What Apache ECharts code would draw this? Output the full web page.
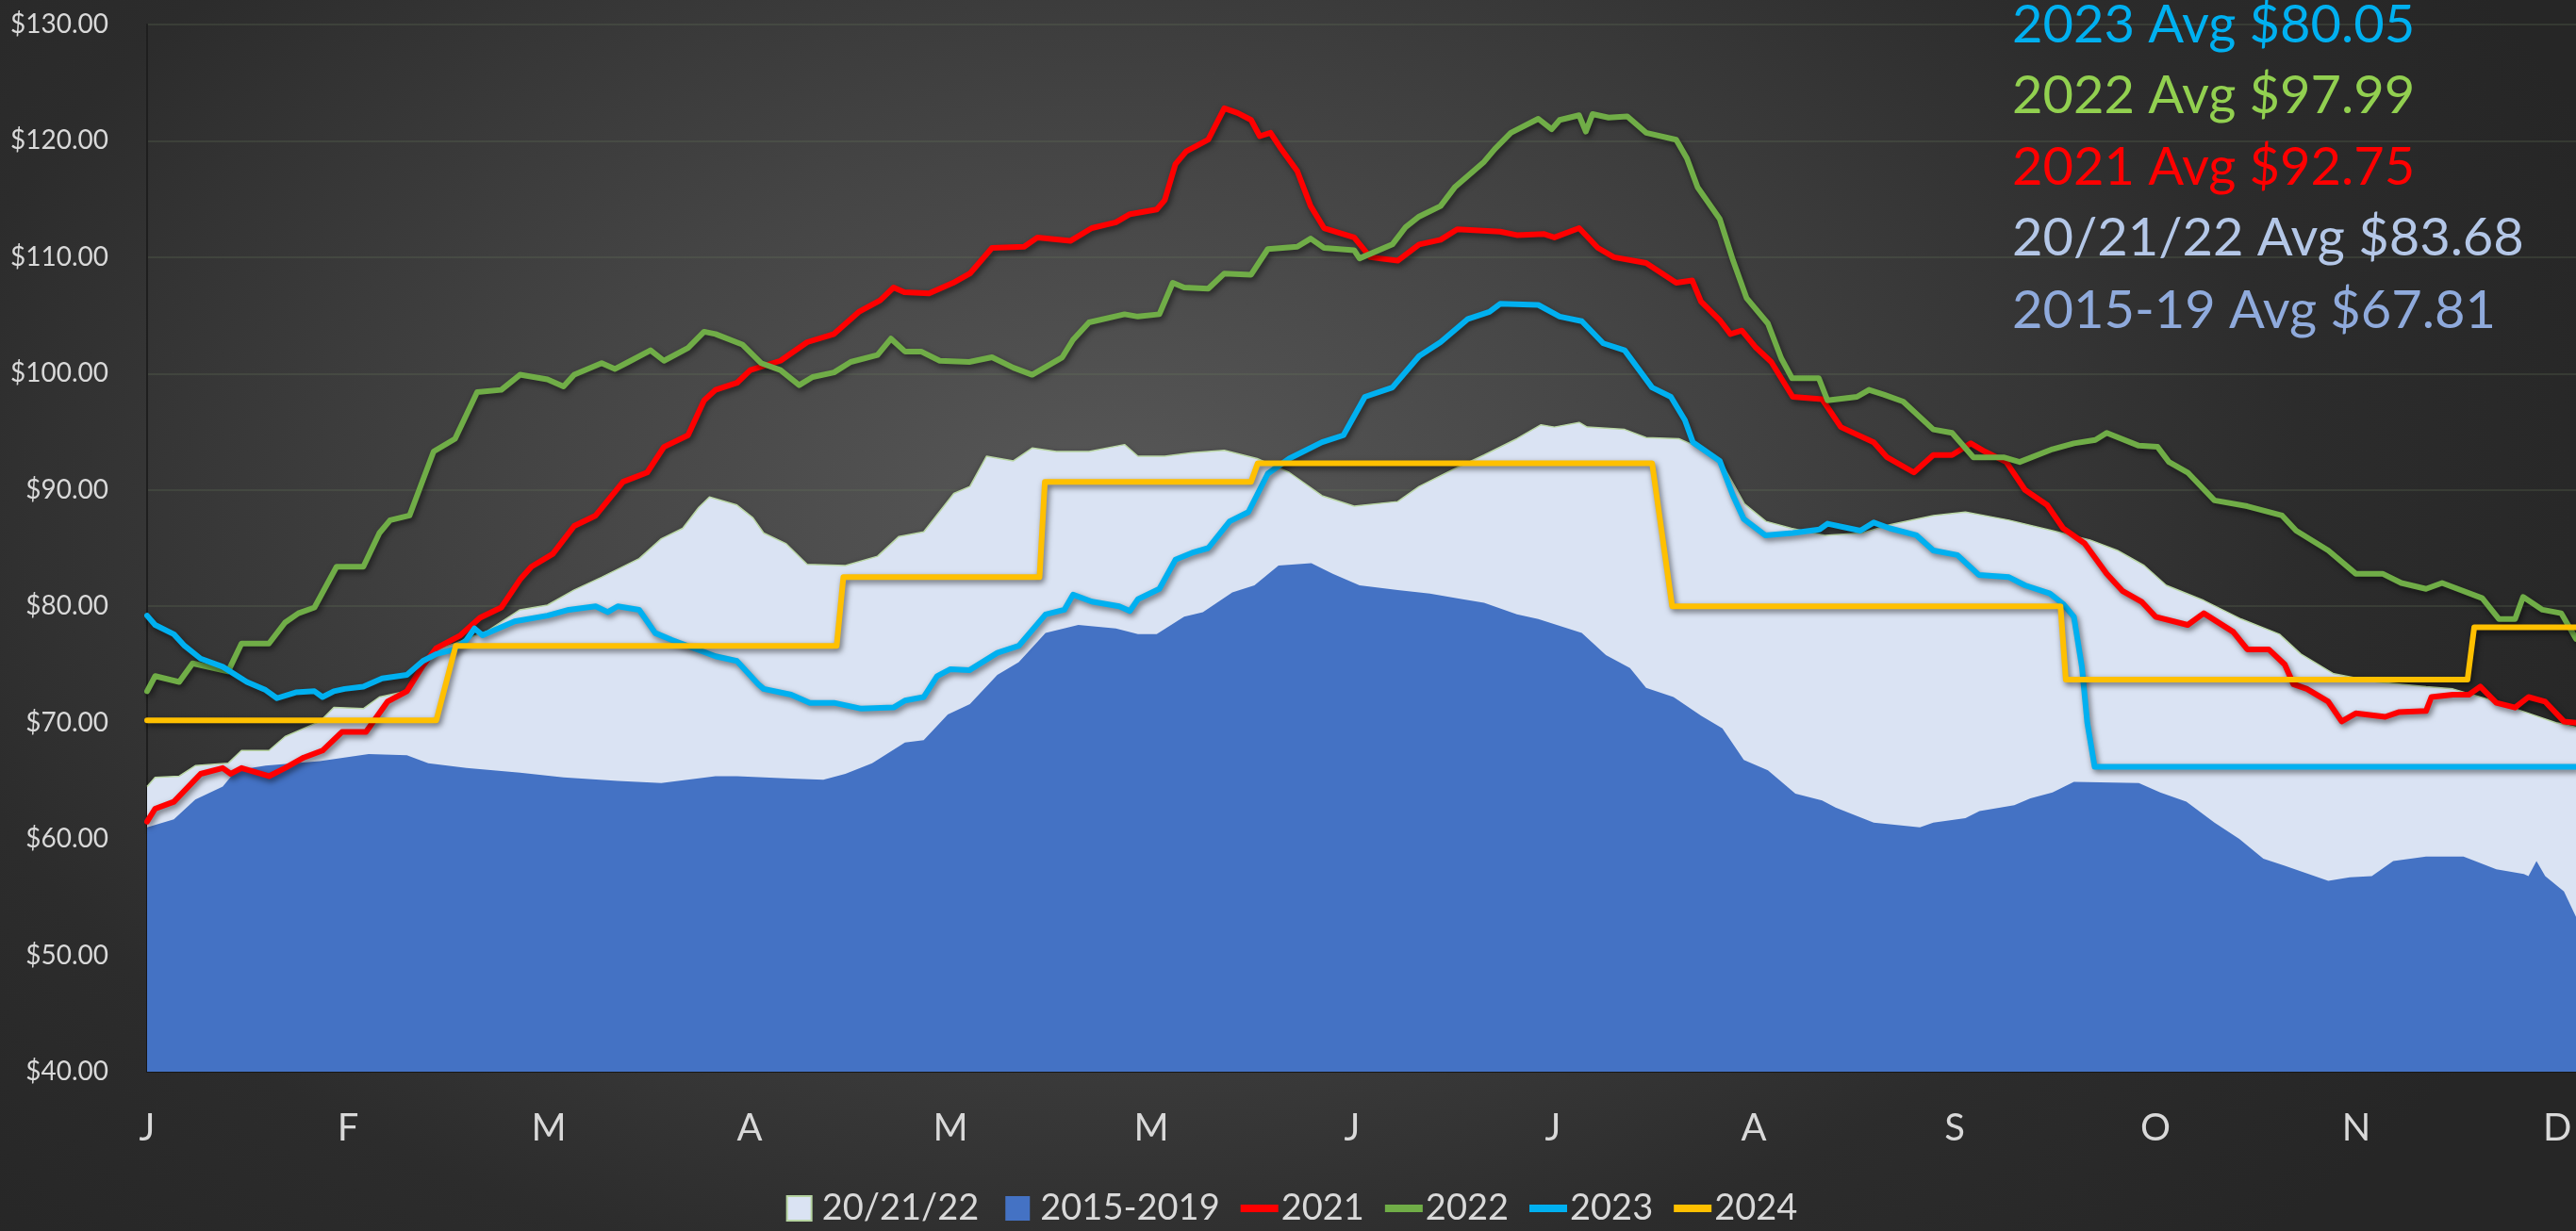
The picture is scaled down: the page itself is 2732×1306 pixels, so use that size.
<!DOCTYPE html>
<html>
<head>
<meta charset="utf-8">
<script src="https://cdn.jsdelivr.net/npm/echarts@6/dist/echarts.min.js"></script>
<style>
html,body{margin:0;padding:0;width:2732px;height:1306px;overflow:hidden;}
body{background:radial-gradient(ellipse 62% 85% at 43% 42%, #585858 0%, #454545 35%, #2c2c2c 75%, #262626 100%);}
#chart{width:2732px;height:1306px;}
</style>
</head>
<body>
<div id="chart"></div>
<script>
// ---------- DATA ----------
const tickLabels = ['J','F','M','A','M','M','J','J','A','S','O','N','D'];
const seriesNames = ['20/21/22','2015-2019','2021','2022','2023','2024'];
const avgLabels = ['2023 Avg $80.05','2022 Avg $97.99','2021 Avg $92.75','20/21/22 Avg $83.68','2015-19 Avg $67.81'];

const daysRange = [0,1.2,4.8,7.2,12.1,14.1,18.2,20.6,25.8,27.9,32.3,34.7,38.8,41.2,43.2,46,50.9,55.7,59.8,63.8,67.9,73.5,76.8,80,82.4,84,88.1,90.5,92.1,95.4,98.6,104.3,109.1,112.3,116,120.5,122.9,125.4,129.4,132.2,135.8,140.7,146,148,152,156.1,160.9,165.8,170.6,175.5,180.3,186.8,190,194.9,199.7,204.6,208.2,210.2,213.9,215.1,220.7,223.9,228.8,230.8,235.3,238.6,241.8,245.6,250.6,256.2,260.3,266.8,271.6,278.1,284.6,290.2,294.3,298.3,301.6,307.2,312.8,318.5,321.7,326.6,333,340.4,344.4,350.9,354.2,359.8,362.8];
const valsRange = [64.5,65.3,65.4,66.3,66.5,67.6,67.6,68.8,70.1,71.3,71.2,72.2,72.7,74.9,76.3,76.8,77.9,79.7,80.1,81.4,82.5,84.1,85.8,86.7,88.5,89.4,88.7,87.6,86.3,85.4,83.6,83.5,84.3,86.0,86.4,89.7,90.3,92.9,92.5,93.6,93.3,93.3,93.9,92.9,92.9,93.2,93.4,92.7,91.5,89.5,88.6,89.0,90.3,91.7,93.0,94.4,95.6,95.4,95.8,95.4,95.2,94.5,94.4,93.9,92.2,88.8,87.3,86.7,86.1,86.3,87.0,87.8,88.1,87.4,86.5,85.7,84.8,83.5,81.8,80.5,78.9,77.6,75.9,74.2,73.5,73.1,72.9,71.8,71.1,70.0,69.6];

const days1519 = [0,4,7.2,11.3,13.3,17.7,25.8,33.1,38.8,42,47.7,55.7,62.2,70.3,76.8,84.9,88.1,96.2,101,104.3,108.3,113.2,116,119.6,122.9,127,130.2,134.2,139.1,144.7,148,150.8,154.9,157.7,162.1,165.4,169,173.9,177.1,181.1,186.8,191.6,196.5,199.7,204.6,207.8,214.3,217.9,221.5,223.9,228,232.1,235.3,238.5,242.1,246.2,250.2,252.2,257.9,264.8,266.8,271.6,273.7,278.9,281.3,284.6,287.8,297.5,300.7,304.6,308.8,312.5,316.1,319.3,325.8,329,332.3,335.5,340.4,346,350.9,355,355.7,356.9,358.2,361,362.8];
const vals1519 = [61.0,61.7,63.4,64.5,65.9,66.3,66.7,67.3,67.2,66.5,66.1,65.7,65.3,65.0,64.8,65.4,65.4,65.2,65.1,65.6,66.5,68.3,68.5,70.7,71.6,74.1,75.2,77.7,78.4,78.1,77.6,77.6,79.1,79.5,81.2,81.8,83.5,83.7,82.8,81.8,81.4,81.1,80.6,80.3,79.3,78.9,77.7,75.8,74.7,73.0,72.2,70.6,69.5,66.8,65.9,63.9,63.3,62.7,61.4,61.0,61.4,61.8,62.4,62.9,63.5,64.0,64.9,64.8,64.0,63.2,61.4,60.0,58.3,57.7,56.4,56.7,56.8,58.1,58.5,58.5,57.4,57.0,56.8,58.1,56.8,55.5,53.3];

const days2021 = [0,1.2,4,8,11.3,12.5,14.1,18.2,20.6,23.4,26.2,29.1,32.7,35.9,38.8,41.2,43.2,46.8,49.7,52.9,55.7,57.4,60.6,63.8,67,71.1,74.7,77.2,80.8,83.2,84.9,88.1,90.1,94.6,98.6,102.6,106.3,109.5,111.5,113.1,116.8,120.4,122.9,126.2,131,133,137.9,141.1,144.7,146.8,150.8,152,153.6,155.2,158.5,160.9,162.9,164.9,166.2,167.8,169.4,171.8,173.8,175.8,180.3,182.7,186.8,190,193.2,195.7,202.1,204.6,208.6,210.2,213.9,216.7,219.1,223.9,228.4,230.8,232.1,234.9,236.5,238.2,240.2,242.6,245.8,250.2,253,257.9,259.9,263.9,266.8,269.6,272.4,274.5,277.7,280.5,283.8,286.2,289.4,292.7,295.1,297.9,300,304.8,307.2,311.6,313.7,316.9,319.3,320.6,322.6,325.8,327.8,329.9,334.3,336.3,340.4,341.2,344.4,346.8,348.5,350.9,353.7,355.7,358.2,361,362.8];
const vals2021 = [61.5,62.6,63.2,65.6,66.1,65.6,66.1,65.4,66.1,67.0,67.6,69.2,69.2,71.8,72.7,74.9,76.4,77.5,79.0,79.9,82.3,83.4,84.5,86.9,87.8,90.7,91.5,93.7,94.7,97.7,98.6,99.2,100.3,101.1,102.7,103.4,105.3,106.3,107.4,107.0,106.9,107.8,108.6,110.8,110.9,111.7,111.4,112.5,113.0,113.7,114.1,114.9,118.0,119.1,120.1,122.8,122.4,121.8,120.4,120.7,119.3,117.4,114.4,112.5,111.7,110.0,109.7,111.1,111.5,112.4,112.2,111.9,112.0,111.7,112.5,110.8,110.0,109.5,107.8,108.0,106.2,104.6,103.4,103.7,102.3,101.0,98.0,97.8,95.4,94.1,92.8,91.5,93.0,93.0,94.0,93.3,92.4,90.0,88.7,86.7,85.4,82.8,81.3,80.4,79.1,78.4,79.4,77.8,76.3,76.3,75.0,73.3,72.9,71.8,70.1,70.8,70.5,70.9,71.0,72.2,72.4,72.4,73.1,71.7,71.3,72.2,71.8,70.1,70.0];

const days2022 = [0,1.2,4.8,6.8,12.1,14.1,18.2,20.6,22.6,25,28.3,32.3,34.7,36.3,39.2,42.8,46,49.3,52.9,55.7,59.8,62.2,63.8,67.9,69.9,71.9,75.2,77.2,80.8,83.2,84.9,88.9,91.7,94.6,97.4,99.4,102.6,105.1,109.1,111.1,113.2,115.6,118.4,122.8,126.2,129.4,132.2,136.7,138.3,140.7,146,148,151.2,153.2,154.9,158.5,160.9,164.9,167.4,171.8,173.8,175.8,180.3,181.1,186,188,190,193.2,195.3,199.7,201.3,203.7,207.8,209.8,211,213.9,214.9,215.9,218.3,221.1,223.9,228.4,230,231.6,234.9,236.9,238.9,242.1,244.1,245.7,249.7,251,255.4,257.2,259.4,262.3,266.8,269.6,272.8,277.3,279.7,284.6,287.8,291,292.7,297.5,300.3,302,304.8,308.8,313.7,318.9,321,325.8,329.9,333.9,336.7,340.4,342.8,348.8,351.3,353.7,354.9,357.8,360.6,362.8];
const vals2022 = [72.7,74.0,73.5,75.1,74.4,76.8,76.8,78.6,79.4,79.9,83.4,83.4,86.3,87.4,87.8,93.3,94.4,98.4,98.6,99.9,99.5,98.9,99.9,100.9,100.4,101.0,102.0,101.1,102.2,103.6,103.4,102.5,100.9,100.3,99.0,99.7,100.1,101.0,101.6,103.0,101.9,101.9,101.1,101.0,101.4,100.5,99.9,101.4,102.9,104.4,105.1,104.9,105.1,107.8,107.4,107.3,108.6,108.5,110.7,110.9,111.6,110.8,110.6,109.9,111.1,112.6,113.5,114.4,116.0,118.2,119.3,120.7,121.9,121.0,121.8,122.2,120.8,122.3,122.0,122.1,120.7,120.1,118.5,116.0,113.3,109.7,106.5,104.3,101.3,99.6,99.6,97.7,98.0,98.6,98.2,97.6,95.2,94.9,92.8,92.8,92.4,93.5,94.0,94.3,94.9,93.8,93.7,92.4,91.5,89.1,88.6,87.8,86.5,84.8,82.8,82.8,82.0,81.5,82.0,80.7,78.9,78.9,80.8,79.7,79.4,77.2];

const days2023 = [0,1.2,4,5.6,8,11.3,14.9,17.7,19.4,22.2,25,26.2,27.9,29.5,32.3,35.1,38.8,41.2,43.2,46,47.7,48.9,50.1,54.9,59.8,63,67,68.8,70.3,73.5,75.9,78.4,84.9,88.1,91.3,92.1,96.2,99,102.6,106.7,111.5,113.2,116,118,120,122.8,127,130.2,134.2,137,138.3,141.1,145.2,146.8,148,151.2,153.6,156.1,158.5,161.7,164.5,167.4,170.6,175.5,178.7,181.9,186,190,193.2,197.3,200.5,202.1,207.8,211,214.3,217.5,220.7,224.8,227.6,229.7,230.9,234.9,236.9,238.5,241.7,245.8,249.8,251,255.9,257.9,260.3,264.3,266.8,270.4,273.6,278.1,280.5,284.2,286.2,287.8,289,289.8,290.9,362.8];
const vals2023 = [79.2,78.4,77.6,76.6,75.5,74.8,73.5,72.8,72.1,72.6,72.7,72.2,72.7,72.9,73.1,73.8,74.1,75.3,75.9,76.3,77.1,78.1,77.5,78.7,79.2,79.7,80.0,79.5,80.0,79.7,77.7,77.1,75.7,75.3,73.3,72.9,72.4,71.7,71.7,71.2,71.3,71.9,72.2,74.0,74.6,74.5,76.0,76.6,79.3,79.7,81.0,80.4,80.0,79.6,80.6,81.5,84.0,84.6,85.0,87.3,88.1,91.4,92.7,94.1,94.7,98.0,98.8,101.5,102.7,104.7,105.3,106.0,105.9,104.9,104.5,102.6,102.0,98.8,98.0,96.0,94.1,92.5,89.5,87.5,86.1,86.3,86.6,87.1,86.5,87.2,86.7,86.1,84.8,84.4,82.7,82.5,81.8,81.1,80.2,79.1,74.8,70.0,66.2,66.2];

const days2024 = [0,43.2,46.1,103,104,133.3,134.1,164.9,165.9,224.8,227.8,285.8,286.6,346.6,347.6,362.8];
const vals2024 = [70.2,70.2,76.6,76.6,82.5,82.5,90.7,90.7,92.3,92.3,80.0,80.0,73.7,73.7,78.2,78.2];

// ---------- STYLE ----------
const colors = ['#dae3f3','#4472c4','#ff0000','#70ad47','#00b0f0','#ffc000'];
const avgColors = ['#00b0f0','#92d050','#ff0000','#b4c7e7','#8faadc'];
const FONT = 'Lato, "Noto Sans", sans-serif';

const pair = (d, v) => d.map((x, i) => [x, v[i]]);
const lineShadow = {shadowColor:'rgba(0,0,0,0.55)', shadowBlur:6, shadowOffsetX:2, shadowOffsetY:3};

function lineSeries(name, d, v, color, z) {
  return {
    name, type:'line', data: pair(d, v), symbol:'none', z,
    lineStyle: Object.assign({color, width:6, cap:'round', join:'round'}, lineShadow),
    itemStyle:{color}
  };
}

const chart = echarts.init(document.getElementById('chart'), null, {renderer:'canvas'});
const sqIcon = 'path://M8,0L34,0L34,26L8,26Z M0,0 M44,26';
const lnIcon = 'path://M2,9L42,9L42,17L2,17Z M0,0 M44,26';

const graphics = avgLabels.map((t, i) => ({
  type:'text', x:2134, y:[27,102,178,253,330][i], z:100,
  style:{text:t, fill:avgColors[i], font:'56px ' + FONT, verticalAlign:'middle', align:'left'}
}));

chart.setOption({
  backgroundColor:'transparent',
  animation:false,
  grid:{left:156, right:0, top:26, bottom:169, containLabel:false},
  xAxis:{
    type:'value', min:0, max:362.8, interval:30,
    axisLine:{show:true, lineStyle:{color:'#1e1e1e', width:2}},
    axisTick:{show:false},
    splitLine:{show:false},
    axisLabel:{
      color:'#d9d9d9', fontSize:40, fontFamily:FONT, margin:40,
      showMaxLabel:false,
      formatter:(v) => (Math.abs(v % 30) < 1e-6 ? tickLabels[Math.round(v/30)] || '' : '')
    }
  },
  yAxis:{
    type:'value', min:40, max:130, interval:10,
    axisLine:{show:true, lineStyle:{color:'#1e1e1e', width:2}},
    axisTick:{show:false},
    splitLine:{show:true, lineStyle:{color:'rgba(110,125,95,0.3)', width:1.5}},
    axisLabel:{color:'#d9d9d9', fontSize:28, fontFamily:FONT, margin:41,
      formatter:(v) => '$' + v.toFixed(2)}
  },
  legend:{
    bottom:0, left:'center', itemGap:20, itemWidth:44, itemHeight:26,
    textStyle:{color:'#d9d9d9', fontSize:38, fontFamily:FONT, padding:[0,0,0,-4]},
    data:[
      {name:'20/21/22', icon:sqIcon, itemStyle:{color:'#dae3f3', borderColor:'#b5d3a0', borderWidth:2}},
      {name:'2015-2019', icon:sqIcon, itemStyle:{color:'#4472c4'}},
      {name:'2021', icon:lnIcon},
      {name:'2022', icon:lnIcon},
      {name:'2023', icon:lnIcon},
      {name:'2024', icon:lnIcon}
    ]
  },
  graphic: graphics,
  series:[
    {name:seriesNames[0], type:'line', data:pair(daysRange, valsRange), symbol:'none', z:2,
      lineStyle:{color:'#b9d6a4', width:1.5},
      itemStyle:{color:colors[0]},
      areaStyle:{color:colors[0], opacity:1, shadowColor:'rgba(0,0,0,0.45)', shadowBlur:6, shadowOffsetY:2}},
    {name:seriesNames[1], type:'line', data:pair(days1519, vals1519), symbol:'none', z:3,
      lineStyle:{width:0},
      itemStyle:{color:colors[1]},
      areaStyle:{color:colors[1], opacity:1}},
    lineSeries(seriesNames[2], days2021, vals2021, colors[2], 4),
    lineSeries(seriesNames[3], days2022, vals2022, colors[3], 5),
    lineSeries(seriesNames[4], days2023, vals2023, colors[4], 6),
    lineSeries(seriesNames[5], days2024, vals2024, colors[5], 7)
  ]
});
</script>
</body>
</html>
